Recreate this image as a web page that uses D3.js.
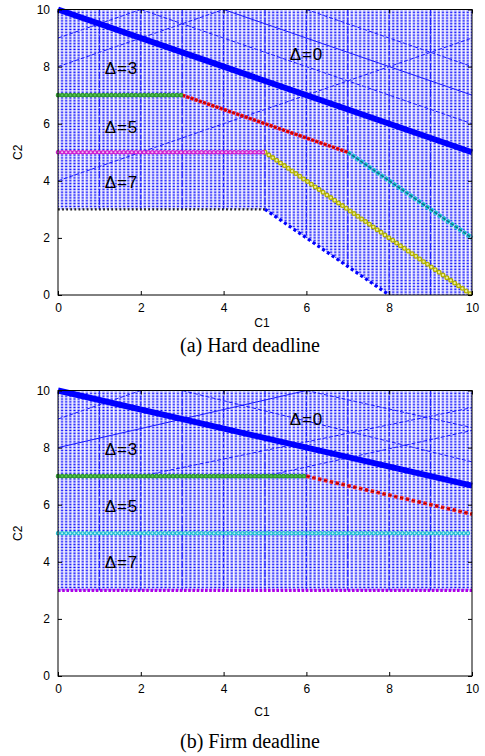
<!DOCTYPE html>
<html>
<head>
<meta charset="utf-8">
<script src="https://cdn.jsdelivr.net/npm/d3@7"></script>
<style>
  html, body { margin: 0; padding: 0; background: #ffffff; }
  svg { display: block; }
  .tick text { font-family: "Liberation Sans", Arial, sans-serif; font-size: 12px; fill: #000; }
  .tick line { stroke: #000; }
</style>
</head>
<body>
<svg id="chart" width="485" height="756"></svg>
<script>
/* ---------------------------------------------------------
   Data (C1 horizontal, C2 vertical)
   --------------------------------------------------------- */

const X_TICKS = [0, 2, 4, 6, 8, 10];
const Y_TICKS = [0, 2, 4, 6, 8, 10];

// (a) hard deadline
const A_SHADE   = [[0, 3], [5, 3], [8, 0], [10, 0], [10, 10], [0, 10]];
const A_DELTA0  = [[0, 10], [10, 5]];
const A_GREEN   = [[0, 7], [3, 7]];
const A_RED     = [[3, 7], [7, 5]];
const A_CYAN    = [[7, 5], [10, 2]];
const A_MAGENTA = [[0, 5], [5, 5]];
const A_YELLOW  = [[5, 5], [10, 0]];
const A_BLACK   = [[0, 3], [5, 3]];
const A_BLUEDOT = [[5, 3], [8, 0]];
const A_LABELS  = [["Δ=3", 1.13, 7.95], ["Δ=0", 5.6, 8.45], ["Δ=5", 1.13, 5.9], ["Δ=7", 1.13, 3.95]];
const A_VGRID   = [1, 2, 3, 4, 5, 6, 7, 8, 9];
const A_DIAG    = [
  [[2, 10], [10, 6]], [[4, 10], [10, 7]], [[0, 9], [2, 10]],
  [[0, 8], [4, 10]], [[0, 4], [10, 9]], [[6, 10], [10, 8]]
];

// (b) firm deadline
const B_SHADE   = [[0, 3], [10, 3], [10, 10], [0, 10]];
const B_DELTA0  = [[0, 10], [10, 6.67]];
const B_GREEN   = [[0, 7], [6, 7]];
const B_RED     = [[6, 7], [10, 5.67]];
const B_CYAN    = [[0, 5], [10, 5]];
const B_PURPLE  = [[0, 3], [10, 3]];
const B_LABELS  = [["Δ=3", 1.13, 7.95], ["Δ=0", 5.6, 9.0], ["Δ=5", 1.13, 5.95], ["Δ=7", 1.13, 4.0]];
const B_VGRID   = [1, 2, 3, 4, 5, 6, 7, 8, 9];
const B_DIAG    = [
  [[0, 9], [2, 10]], [[0, 8], [6, 10]], [[3, 10], [10, 7.5]],
  [[6, 10], [10, 8.7]], [[2, 7], [10, 9.4]], [[5, 7], [10, 8.6]]
];

/* ---------------------------------------------------------
   Layout
   --------------------------------------------------------- */

const X_RANGE = [58, 472];
const PANELS = [
  { id: "a", yRange: [295, 9.5], caption: "(a) Hard deadline", capY: 352, c1Y: 327 },
  { id: "b", yRange: [676, 390.5], caption: "(b) Firm deadline", capY: 748, c1Y: 716 }
];

const svg = d3.select("#chart");
const defs = svg.append("defs");

function drawSeries(g, x, y, pts, st) {
  const line = d3.line().x(d => x(d[0])).y(d => y(d[1]));
  const p = g.append("path")
    .datum(pts)
    .attr("d", line)
    .attr("fill", "none")
    .attr("stroke", st.color)
    .attr("stroke-width", st.width)
    .attr("stroke-linecap", st.cap || "butt");
  if (st.dash) p.attr("stroke-dasharray", st.dash);
  if (st.inner) {
    g.append("path")
      .datum(pts)
      .attr("d", line)
      .attr("fill", "none")
      .attr("stroke", st.inner)
      .attr("stroke-width", st.innerWidth)
      .attr("stroke-linecap", st.cap || "butt")
      .attr("stroke-dasharray", st.dash);
  }
}

function drawPanel(cfg, data) {
  const x = d3.scaleLinear().domain([0, 10]).range(X_RANGE);
  const y = d3.scaleLinear().domain([0, 10]).range(cfg.yRange);
  const g = svg.append("g");

  // dotted sample-grid texture, 0.1 units apart
  const cw = x(0.1) - x(0);
  const ch = y(0) - y(0.1);
  const pat = defs.append("pattern")
    .attr("id", "dots-" + cfg.id)
    .attr("patternUnits", "userSpaceOnUse")
    .attr("x", x(0) - cw / 2)
    .attr("y", y(10) - ch / 2)
    .attr("width", cw)
    .attr("height", ch);
  pat.append("rect").attr("x", 0.4).attr("y", 0.3).attr("width", 3.0).attr("height", 2.1)
    .attr("fill", "#a4a4ff");
  pat.append("rect").attr("x", 1.1).attr("y", 0.8).attr("width", 1.8).attr("height", 1.2)
    .attr("fill", "#0000ff");

  const shadeLine = d3.line().x(d => x(d[0])).y(d => y(d[1]));
  defs.append("clipPath").attr("id", "clip-" + cfg.id)
    .append("path").attr("d", shadeLine(data.shade) + "Z");

  g.append("path")
    .attr("d", shadeLine(data.shade) + "Z")
    .attr("fill", `url(#dots-${cfg.id})`);

  // thin guide lines inside the sampled region
  const guides = g.append("g").attr("clip-path", `url(#clip-${cfg.id})`);
  guides.selectAll("line.v")
    .data(data.vgrid)
    .join("line")
    .attr("x1", d => x(d)).attr("x2", d => x(d))
    .attr("y1", y(0)).attr("y2", y(10))
    .attr("stroke", "#1a1aff")
    .attr("stroke-width", 1)
    .attr("stroke-dasharray", (d, i) => (i % 2 ? "4 2" : "7 2"));
  guides.selectAll("line.d")
    .data(data.diag)
    .join("line")
    .attr("x1", d => x(d[0][0])).attr("y1", d => y(d[0][1]))
    .attr("x2", d => x(d[1][0])).attr("y2", d => y(d[1][1]))
    .attr("stroke", "#1a1aff")
    .attr("stroke-width", 1)
    .attr("stroke-dasharray", (d, i) => (i === 1 ? null : "4 2"));

  // boundary series
  data.series.forEach(s => drawSeries(g, x, y, s.pts, s.style));

  // frame and axes (gnuplot style: ticks inside, mirrored)
  g.append("rect")
    .attr("x", X_RANGE[0]).attr("y", cfg.yRange[1])
    .attr("width", X_RANGE[1] - X_RANGE[0])
    .attr("height", cfg.yRange[0] - cfg.yRange[1])
    .attr("fill", "none").attr("stroke", "#000").attr("stroke-width", 1);

  g.append("g")
    .attr("transform", `translate(${X_RANGE[0]},0)`)
    .call(d3.axisLeft(y).tickValues(Y_TICKS).tickSize(-4).tickPadding(8))
    .call(a => a.select(".domain").remove());
  g.append("g")
    .attr("transform", `translate(${X_RANGE[1]},0)`)
    .call(d3.axisRight(y).tickValues(Y_TICKS).tickSize(-4).tickFormat(""))
    .call(a => a.select(".domain").remove());
  g.append("g")
    .attr("transform", `translate(0,${cfg.yRange[0]})`)
    .call(d3.axisBottom(x).tickValues(X_TICKS).tickSize(-4).tickPadding(8))
    .call(a => a.select(".domain").remove());
  g.append("g")
    .attr("transform", `translate(0,${cfg.yRange[1]})`)
    .call(d3.axisTop(x).tickValues(X_TICKS).tickSize(-4).tickFormat(""))
    .call(a => a.select(".domain").remove());

  // region labels
  g.selectAll("text.delta")
    .data(data.labels)
    .join("text")
    .attr("x", d => x(d[1]))
    .attr("y", d => y(d[2]))
    .attr("dy", "0.36em")
    .attr("font-family", "Liberation Sans, Arial, sans-serif")
    .attr("font-size", 17)
    .attr("letter-spacing", 0.8)
    .text(d => d[0]);

  g.append("text")
    .attr("x", 262).attr("y", cfg.c1Y)
    .attr("text-anchor", "middle")
    .attr("font-family", "Liberation Sans, Arial, sans-serif")
    .attr("font-size", 12)
    .text("C1");

  g.append("text")
    .attr("transform", `translate(22,${(cfg.yRange[0] + cfg.yRange[1]) / 2}) rotate(-90)`)
    .attr("text-anchor", "middle")
    .attr("font-family", "Liberation Sans, Arial, sans-serif")
    .attr("font-size", 12)
    .text("C2");

  g.append("text")
    .attr("x", 250).attr("y", cfg.capY)
    .attr("text-anchor", "middle")
    .attr("font-family", "Liberation Serif, Times New Roman, serif")
    .attr("font-size", 20)
    .text(cfg.caption);
}

const thick = { color: "#0000ff", width: 6 };

drawPanel(PANELS[0], {
  shade: A_SHADE, vgrid: A_VGRID, diag: A_DIAG, labels: A_LABELS,
  series: [
    { pts: A_BLACK,   style: { color: "#222222", width: 2.4, dash: "1.8 2.3" } },
    { pts: A_BLUEDOT, style: { color: "#0000ff", width: 3.2, dash: "3 2.8" } },
    { pts: A_YELLOW,  style: { color: "#b0b000", width: 5, dash: "0 4.7", cap: "round", inner: "#ecec9c", innerWidth: 2.4 } },
    { pts: A_MAGENTA, style: { color: "#d020d0", width: 4.6, dash: "0 4.1", cap: "round", inner: "#f0b8f0", innerWidth: 2.2 } },
    { pts: A_CYAN,    style: { color: "#20c8d8", width: 4.4, dash: "3.6 1.4", inner: "#107080", innerWidth: 1.4 } },
    { pts: A_RED,     style: { color: "#ff1010", width: 3.6, dash: "3.2 1.2", inner: "#a00000", innerWidth: 1 } },
    { pts: A_GREEN,   style: { color: "#2f9a2f", width: 4.6, dash: "0 4.1", cap: "round", inner: "#50c050", innerWidth: 2.2 } },
    { pts: A_DELTA0,  style: thick }
  ]
});

drawPanel(PANELS[1], {
  shade: B_SHADE, vgrid: B_VGRID, diag: B_DIAG, labels: B_LABELS,
  series: [
    { pts: B_PURPLE, style: { color: "#b000e8", width: 3.2, dash: "2.6 1.6" } },
    { pts: B_CYAN,   style: { color: "#20c0d0", width: 4.4, dash: "0 4.1", cap: "round", inner: "#b8eef4", innerWidth: 2 } },
    { pts: B_RED,    style: { color: "#ff2020", width: 3.8, dash: "3.4 2.6", inner: "#a00000", innerWidth: 1.2 } },
    { pts: B_GREEN,  style: { color: "#2f9a2f", width: 4.6, dash: "0 4.1", cap: "round", inner: "#50c050", innerWidth: 2.2 } },
    { pts: B_DELTA0, style: thick }
  ]
});
</script>
</body>
</html>
